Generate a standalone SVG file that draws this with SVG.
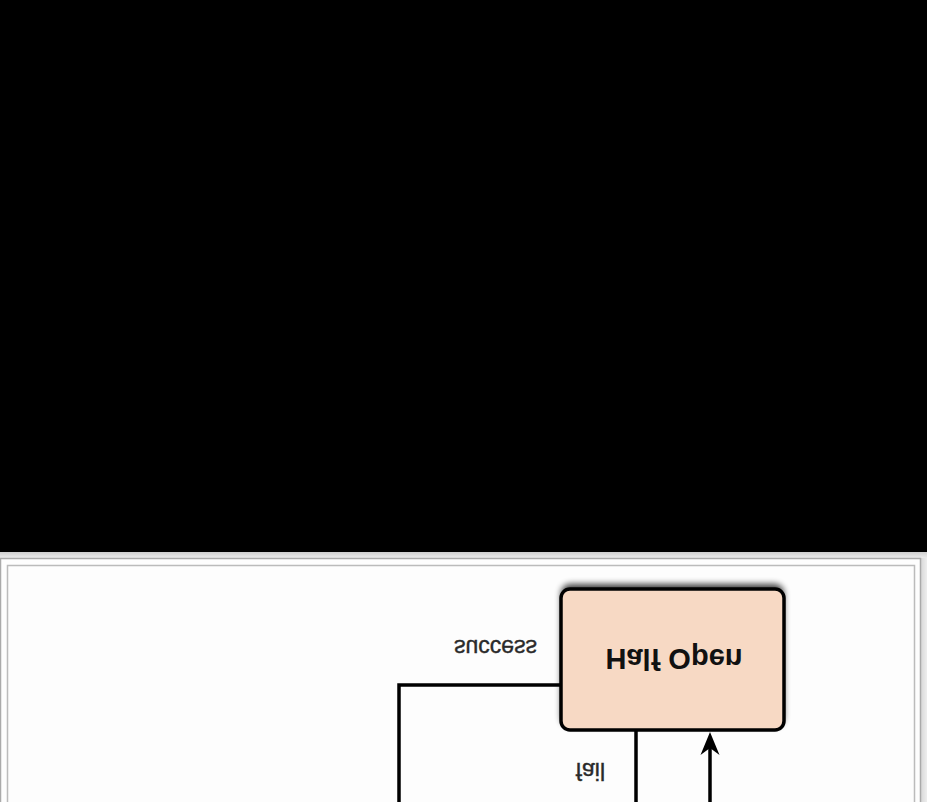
<svg xmlns="http://www.w3.org/2000/svg" width="927" height="802" viewBox="0 0 927 802">
  <defs>
    <linearGradient id="band" x1="0" y1="0" x2="0" y2="1">
      <stop offset="0" stop-color="#cfcfcf"/>
      <stop offset="1" stop-color="#ececec"/>
    </linearGradient>
    <linearGradient id="side" x1="0" y1="0" x2="1" y2="0">
      <stop offset="0" stop-color="#d9d9d9"/>
      <stop offset="1" stop-color="#eeeeee"/>
    </linearGradient>
    <filter id="shadow" x="-10%" y="-10%" width="120%" height="120%">
      <feGaussianBlur stdDeviation="3"/>
    </filter>
    <style>
      .node { fill: #f7d9c4; stroke: #000; stroke-width: 3.5; }
      .edge { fill: none; stroke: #000; stroke-width: 3.5; }
      .title { font-family: "Liberation Sans", Arial, sans-serif; font-weight: bold; font-size: 29px; fill: #111; text-anchor: middle; }
      .label { font-family: "Liberation Sans", Arial, sans-serif; font-size: 23px; fill: #2a2a2a; stroke: #2a2a2a; stroke-width: 0.4; }
    </style>
  </defs>

  <!-- background -->
  <rect x="0" y="0" width="927" height="802" fill="#fdfdfd"/>
  <rect x="0" y="0" width="927" height="552" fill="#000"/>
  <rect x="0" y="552" width="927" height="6" fill="url(#band)"/>
  <rect x="921" y="558" width="6" height="244" fill="url(#side)"/>
  <path d="M0.5,802 V558.5 H920.5 V802" fill="none" stroke="#aaaaaa" stroke-width="1.5"/>
  <path d="M7.5,802 V565.5 H914.5 V802" fill="none" stroke="#bbbbbb" stroke-width="1.5"/>

  <!-- connectors -->
  <g id="connectors">
    <path class="edge" d="M561,685 H399 V802"/>
    <path class="edge" d="M636,731 V802"/>
    <path class="edge" d="M710,802 V742"/>
    <path d="M710,732 L700.5,755 L710,748 L719.5,755 Z" fill="#000"/>
    <text class="label" text-anchor="end" transform="translate(537,640) scale(1,-1)">success</text>
    <text class="label" text-anchor="end" transform="translate(605,763) scale(1,-1)">fail</text>
  </g>

  <!-- Half Open node -->
  <g id="half-open">
    <rect x="561" y="584" width="223" height="142" rx="9" fill="#000" opacity="0.75" filter="url(#shadow)"/>
    <rect class="node" x="561" y="589" width="223" height="141" rx="9"/>
    <text class="title" transform="translate(674,649) scale(1,-1)">Half Open</text>
  </g>
</svg>
